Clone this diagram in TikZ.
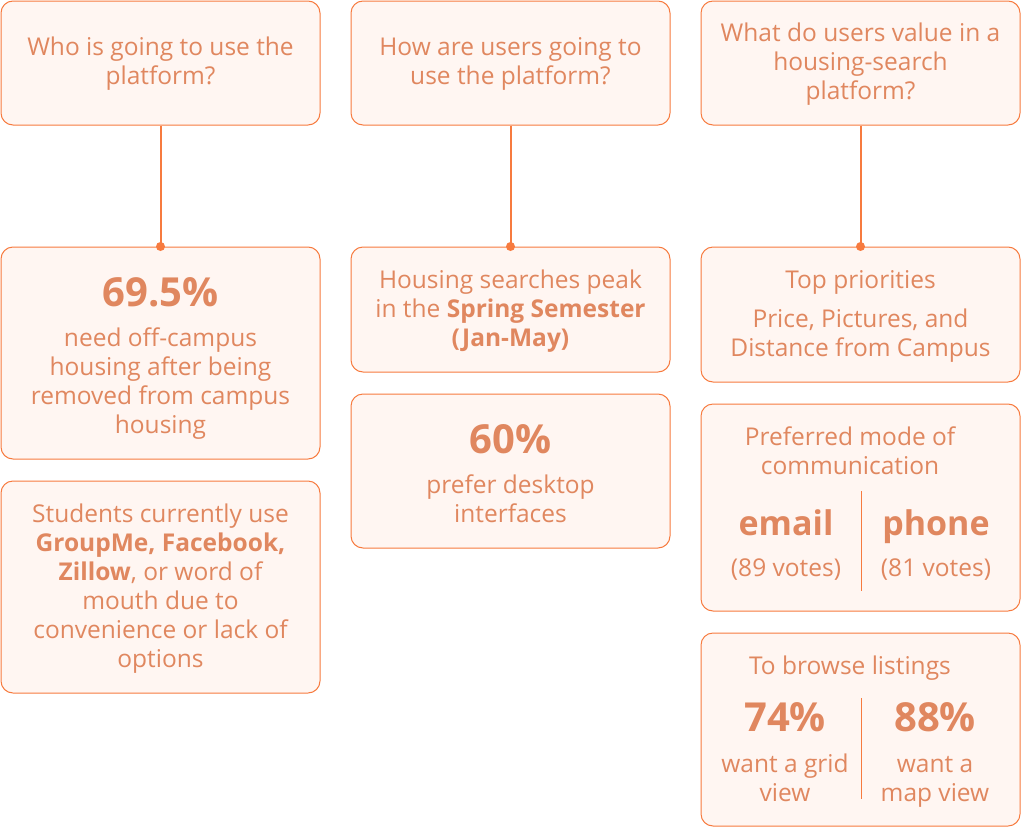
\documentclass[tikz,border=0pt]{standalone}
\usepackage{fontspec}
\setmainfont{Open Sans}
\usetikzlibrary{positioning,calc}
\definecolor{edgeor}{HTML}{F77B3F}
\definecolor{fillor}{HTML}{FFF6F2}
\definecolor{textor}{HTML}{E0875F}
\tikzset{
  card/.style={draw=edgeor, fill=fillor, line width=1pt, rounded corners=12pt, minimum width=319pt, inner sep=0pt},
  txt/.style={text=textor, align=center, anchor=base, font=\fontsize{24.5}{29}\selectfont, inner sep=0pt},
  big/.style={text=textor, align=center, anchor=base, font=\fontsize{40}{42}\selectfont\bfseries, inner sep=0pt},
  mid/.style={text=textor, align=center, anchor=base, font=\fontsize{34}{36}\selectfont\bfseries, inner sep=0pt},
  link/.style={draw=edgeor, line width=2pt},
  pin/.style={fill=edgeor}
}
\begin{document}
\begin{tikzpicture}[x=1pt,y=-1pt]
\useasboundingbox (0,0) rectangle (1022,827);
% top row
\node[card, minimum height=124pt] (who) at (160.5,63) {};
\node[card, minimum height=124pt] (how) at (510.5,63) {};
\node[card, minimum height=124pt] (what) at (860.5,63) {};
\node[txt] (whoT) at (160.5,84) {Who is going to use the\\platform?};
\node[txt] (howT) at (510.5,84) {How are users going to\\use the platform?};
\node[txt] (whatT) at (860.5,99) {What do users value in a\\housing-search\\platform?};
% first column
\node[card, minimum height=212pt] (who1) at (160.5,353) {};
\node[card, minimum height=212pt] (who2) at (160.5,587) {};
\node[big] (pct695) at (160.5,306) {69.5\%};
\node[txt] (needT) at (160.5,433) {need off-campus\\housing after being\\removed from campus\\housing};
\node[txt] (useT) at (160.5,667) {Students currently use\\\textbf{GroupMe, Facebook,}\\\textbf{Zillow}, or word of\\mouth due to\\convenience or lack of\\options};
% second column
\node[card, minimum height=125pt] (how1) at (510.5,309.5) {};
\node[card, minimum height=154pt] (how2) at (510.5,471) {};
\node[txt] (peakT) at (510.5,346) {Housing searches peak\\in the \textbf{Spring Semester}\\\textbf{(Jan-May)}};
\node[big] (pct60) at (510.5,453) {60\%};
\node[txt] (deskT) at (510.5,522) {prefer desktop\\interfaces};
% third column
\node[card, minimum height=135pt] (what1) at (860.5,314.5) {};
\node[card, minimum height=207pt] (what2) at (860.5,507.5) {};
\node[card, minimum height=193pt] (what3) at (860.5,729.5) {};
\node[txt] (topT) at (860.5,288) {Top priorities};
\node[txt] (priceT) at (860.5,356) {Price, Pictures, and\\Distance from Campus};
\node[txt] (prefT) at (850,474) {Preferred mode of\\communication};
\node[mid] (email) at (786,535) {email};
\node[mid] (phone) at (936,535) {phone};
\node[txt] (v89) at (786,576) {(89 votes)};
\node[txt] (v81) at (936,576) {(81 votes)};
\draw[draw=edgeor, line width=1pt] (861,491) -- (861,591);
\node[txt] (browseT) at (850,674) {To browse listings};
\node[big] (pct74) at (785,731) {74\%};
\node[big] (pct88) at (935,731) {88\%};
\node[txt] (gridT) at (785,801) {want a grid\\view};
\node[txt] (mapT) at (935,801) {want a\\map view};
\draw[draw=edgeor, line width=1pt] (861,698) -- (861,799);
% connectors
\draw[link] (who.south) -- (who1.north);
\draw[link] (how.south) -- (how1.north);
\draw[link] (what.south) -- (what1.north);
\foreach \b in {who1,how1,what1}
  \fill[pin] (\b.north) circle (4.5pt);
\end{tikzpicture}
\end{document}
